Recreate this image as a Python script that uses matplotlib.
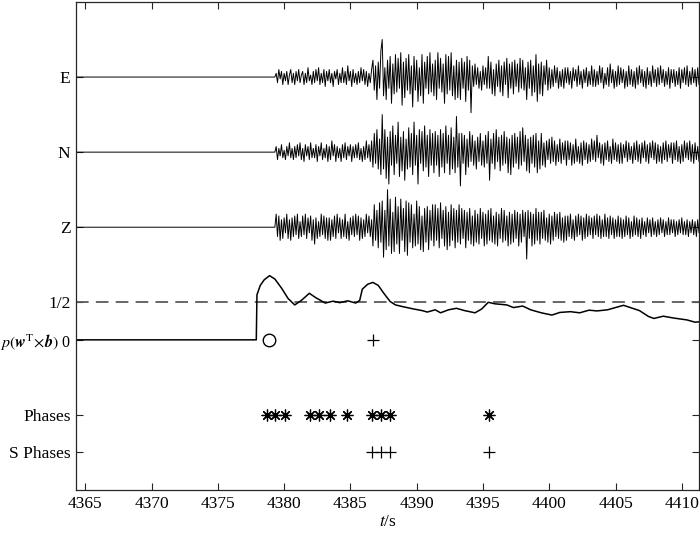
import numpy as np
import matplotlib

matplotlib.use("Agg")
import matplotlib.pyplot as plt

plt.rcParams["font.family"] = ["Liberation Serif", "DejaVu Serif"]
plt.rcParams["mathtext.fontset"] = "stix"

# --- data -----------------------------------------------------------------
# three-component record: sample values (units of 0.05 trace-height),
# every 0.1 s from the onset; flat before it
trace_onset = 4379.4
trace_dt = 0.1
trace_unit = 0.05
east_counts = [
    2, -3, 4, -1, 3, -4, 2, -2, 3, -4, 1, 4, -3, 2, -4, 3, -2, 4, -3, 1,
    3, -4, 2, -3, 5, -2, 1, -4, 3, -3, 4, -2, 5, -4, 2, -3, 4, -5, 3, -2,
    4, -3, 2, -5, 3, -1, 4, -4, 2, -3, 5, -3, 3, -4, 6, -2, 3, -5, 4, -3,
    2, -4, 3, -3, 5, -2, 4, -4, 3, -5, 2, -3, 4, 9, -7, 6, -12, 8, -6, 14,
    20, -10, 5, -12, 9, -6, 11, -14, 7, -9, 12, -8, 10, -6, 13, -15, 8, -11, 10, -7,
    12, -9, 6, -16, 11, -7, 9, -13, 5, -10, 12, -14, 8, -6, 11, -9, 13, -8, 7, -10,
    9, -12, 13, -6, 10, -8, 7, -14, 12, -9, 11, -7, 13, -10, 6, -12, 9, -11, 8, -12,
    10, -6, 8, -13, 11, -7, 9, -19, 6, -5, 7, -4, 5, -6, 3, -7, 6, -4, 5, -6,
    11, -6, 8, -9, 4, -10, 7, -5, 9, -8, 6, -10, 8, -4, 10, -11, 7, -6, 8, -9,
    9, -5, 7, -8, 10, -6, 9, -7, 5, -12, 8, -6, 9, -10, 6, -8, 12, -13, 7, -9,
    8, -10, 6, -4, 9, -7, 5, -6, 4, -5, 6, -3, 5, -6, 3, -5, 4, -6, 5, -3,
    5, -4, 3, -6, 5, -2, 4, -5, 6, -4, 3, -6, 4, -3, 5, -5, 3, -4, 6, -5,
    4, -5, 3, -4, 6, -3, 5, -6, 2, -4, 5, -5, 7, -3, 4, -6, 3, -5, 6, -4,
    5, -3, 4, -6, 3, -5, 6, -4, 4, -5, 3, -6, 5, -4, 6, -3, 4, -5, 3, -6,
    5, -4, 3, -5, 6, -3, 4, -5, 5, -4, 6, -3, 4, -5, 3, -4, 5, -6, 4, -3,
    4, -5, 3, -4, 5, -6, 4, -3, 5, -4, 6, -5, 3, -4, 5, -3, 4, -5, 5, -4,
    3,
]
north_counts = [
    3, -4, 2, -2, 4, -3, 1, -4, 3, -2, 5, -3, 2, -4, 3, -3, 4, -2, 5, -4,
    2, -5, 4, -2, 3, -4, 5, -3, 2, -3, 4, -5, 3, -2, 5, -4, 2, -3, 4, -5,
    3, -4, 6, -2, 4, -5, 3, -3, 2, -5, 4, -3, 5, -4, 3, -2, 4, -5, 3, -3,
    4, -3, 5, -4, 2, -5, 3, -4, 6, -3, 4, -5, 6, -8, 10, -6, 12, -9, 7, -12,
    20, -9, 12, -14, 8, -17, 11, -7, 14, -12, 9, -6, 16, -13, 8, -10, 11, -15, 7, -9,
    13, -8, 10, -12, 16, -7, 9, -17, 12, -6, 11, -10, 14, -8, 9, -13, 12, -7, 10, -11,
    11, -7, 9, -13, 12, -8, 10, -11, 14, -6, 9, -12, 13, -9, 8, -11, 19, -8, 10, -18,
    10, -6, 9, -12, 7, -8, 11, -5, 9, -7, 6, -9, 8, -5, 10, -7, 6, -8, 9, -6,
    11, -15, 7, -6, 10, -9, 12, -5, 8, -10, 9, -7, 11, -6, 8, -11, 7, -12, 9, -8,
    10, -6, 8, -9, 11, -7, 13, -5, 9, -10, 7, -11, 8, -6, 9, -8, 10, -11, 6, -9,
    10, -7, 5, -8, 6, -4, 7, -6, 8, -5, 6, -7, 4, -5, 7, -6, 5, -4, 6, -7,
    6, -4, 5, -7, 4, -6, 7, -5, 3, -6, 5, -7, 6, -4, 5, -6, 4, -5, 7, -4,
    6, -5, 9, -3, 5, -6, 4, -7, 5, -4, 6, -5, 3, -6, 7, -4, 5, -5, 4, -6,
    5, -6, 4, -3, 6, -5, 5, -4, 3, -6, 5, -4, 6, -5, 4, -6, 5, -3, 6, -5,
    4, -6, 5, -3, 6, -4, 5, -6, 4, -5, 3, -6, 5, -4, 6, -5, 4, -3, 5, -6,
    5, -4, 6, -5, 3, -6, 4, -5, 6, -3, 5, -4, 6, -5, 4, -6, 5, -4, 3, -5,
    4,
]
vertical_counts = [
    7, -5, 6, -7, 4, -6, 5, -3, 7, -6, 4, -7, 5, -5, 6, -4, 7, -6, 3, -5,
    6, -4, 7, -6, 5, -3, 6, -7, 4, -9, 5, -6, 3, -5, 7, -4, 6, -6, 5, -7,
    5, -7, 4, -5, 6, -6, 7, -3, 5, -6, 4, -5, 7, -6, 3, -7, 5, -4, 6, -5,
    7, -4, 6, -7, 5, -6, 4, -5, 7, -3, 6, -5, 4, -10, 12, -7, 9, -11, 13, -8,
    14, -16, 9, -12, 20, -10, 15, -14, 8, -13, 16, -9, 11, -14, 15, -7, 10, -13, 14, -15,
    13, -8, 12, -11, 7, -10, 14, -9, 11, -12, 6, -13, 10, -8, 11, -12, 9, -7, 12, -10,
    12, -7, 10, -11, 13, -6, 9, -10, 11, -12, 8, -10, 12, -7, 10, -11, 9, -8, 12, -9,
    10, -6, 9, -11, 8, -7, 10, -9, 6, -10, 9, -8, 7, -9, 10, -6, 8, -10, 7, -9,
    9, -7, 10, -8, 6, -9, 8, -10, 7, -6, 10, -8, 9, -7, 6, -10, 8, -9, 7, -8,
    9, -6, 8, -10, 7, -8, 9, -5, 8, -17, 9, -6, 8, -10, 7, -9, 10, -7, 8, -9,
    8, -6, 9, -7, 5, -8, 7, -9, 6, -7, 8, -5, 7, -6, 8, -7, 5, -8, 6, -7,
    6, -5, 7, -6, 4, -7, 6, -5, 7, -4, 6, -7, 5, -6, 7, -5, 6, -4, 5, -6,
    6, -4, 7, -5, 6, -6, 4, -5, 7, -5, 5, -6, 6, -4, 5, -6, 4, -5, 6, -5,
    5, -6, 4, -5, 6, -4, 5, -6, 3, -5, 6, -4, 5, -5, 4, -6, 5, -4, 3, -5,
    5, -3, 4, -5, 5, -4, 3, -5, 4, -4, 5, -3, 4, -5, 3, -4, 5, -4, 4, -3,
    4, -5, 3, -4, 4, -3, 5, -4, 3, -4, 4, -5, 3, -3, 4, -4, 3, -5, 4, -3,
    3,
]

# detection probability p(w^T x b)
prob_t = [4364.3, 4377.9, 4377.95, 4378.2, 4378.5, 4378.9, 4379.3, 4379.8,
          4380.3, 4380.8, 4381.3, 4381.9, 4382.4, 4383.1, 4383.7, 4384.2,
          4384.8, 4385.4, 4385.7, 4385.9, 4386.3, 4386.7, 4387.1, 4387.5,
          4388.0, 4388.4, 4389.0, 4389.8, 4390.4, 4390.8, 4391.4, 4391.8,
          4392.4, 4393.0, 4393.6, 4394.4, 4394.9, 4395.4, 4395.9, 4396.8,
          4397.3, 4398.0, 4398.6, 4399.4, 4400.2, 4400.8, 4401.6, 4402.3,
          4403.0, 4403.6, 4404.4, 4405.0, 4405.6, 4406.2, 4406.8, 4407.5,
          4407.9, 4408.6, 4409.4, 4410.4, 4411.0, 4411.3]
prob_p = [0.0, 0.0, 0.60, 0.725, 0.80, 0.855, 0.81, 0.69,
          0.55, 0.465, 0.525, 0.62, 0.56, 0.49, 0.515, 0.495,
          0.52, 0.49, 0.525, 0.675, 0.74, 0.765, 0.725, 0.625,
          0.51, 0.465, 0.44, 0.41, 0.39, 0.37, 0.40, 0.36,
          0.40, 0.42, 0.39, 0.36, 0.41, 0.50, 0.48, 0.465,
          0.43, 0.45, 0.40, 0.36, 0.33, 0.365, 0.375, 0.36,
          0.395, 0.385, 0.40, 0.43, 0.46, 0.425, 0.39, 0.31,
          0.285, 0.315, 0.29, 0.265, 0.235, 0.24]

detect_t = [4378.85]          # first detection (circle)
s_detect_t = [4386.74]        # S detection (plus)
phase_t = [4378.69, 4379.32, 4380.07, 4381.96, 4382.66, 4383.47,
           4384.77, 4386.62, 4387.29, 4387.99, 4395.42]
s_phase_t = [4386.62, 4387.29, 4387.99, 4395.42]

row_labels = ["S Phases", "Phases",
              r"$p(\mathbfit{w}^{\mathrm{T}}\!\times\!\mathbfit{b})$ 0",
              "1/2", "Z", "N", "E"]
row_y = [-3, -2, 0, 1, 3, 5, 7]
x_ticks = [4365, 4370, 4375, 4380, 4385, 4390, 4395, 4400, 4405, 4410]
x_lim = (4364.3, 4411.3)

# --- figure ---------------------------------------------------------------
fig = plt.figure(figsize=(7.0, 5.34), dpi=100)
ax = fig.add_axes([0.1086, 0.0824, 0.89, 0.9139])

for counts, base in ((east_counts, 7), (north_counts, 5), (vertical_counts, 3)):
    vals = np.asarray(counts, dtype=float) * trace_unit
    t = trace_onset + trace_dt * np.arange(len(vals))
    # quiet record before the onset
    t = np.concatenate(([x_lim[0], trace_onset - trace_dt], t))
    vals = np.concatenate(([0.0, 0.0], vals))
    ax.plot(t, base + vals, color="black", lw=0.7)

ax.axhline(1, color="#5a5a5a", lw=1.3, ls=(0, (7, 4)))
ax.plot(prob_t, 2 * np.asarray(prob_p), color="black", lw=1.1)

ax.plot(detect_t, [0] * len(detect_t), ls="none", marker="o", ms=9,
        mfc="none", mec="black", mew=1.0)
ax.plot(s_detect_t, [0] * len(s_detect_t), ls="none", marker="+", ms=8,
        color="black", mew=0.9)
ax.plot(phase_t, [-2] * len(phase_t), ls="none", marker=(8, 2, 0), ms=8.5,
        color="black", mew=0.9)
ax.plot(s_phase_t, [-3] * len(s_phase_t), ls="none", marker="+", ms=8,
        color="black", mew=0.9)

ax.set_xlim(*x_lim)
ax.set_ylim(-4, 9)
ax.set_xticks(x_ticks)
ax.set_yticks(row_y)
ax.set_yticklabels(row_labels)
ax.tick_params(direction="in", top=True, right=True, length=5, width=0.8,
               labelsize=12.5, pad=4, colors="#262626", labelcolor="black")
ax.get_yticklabels()[2].set_fontsize(11.5)
for s in ax.spines.values():
    s.set_color("#262626")
    s.set_linewidth(0.9)
ax.set_xlabel(r"$t$/s", fontsize=12.5, labelpad=2)

fig.savefig("out.png", dpi=100)
